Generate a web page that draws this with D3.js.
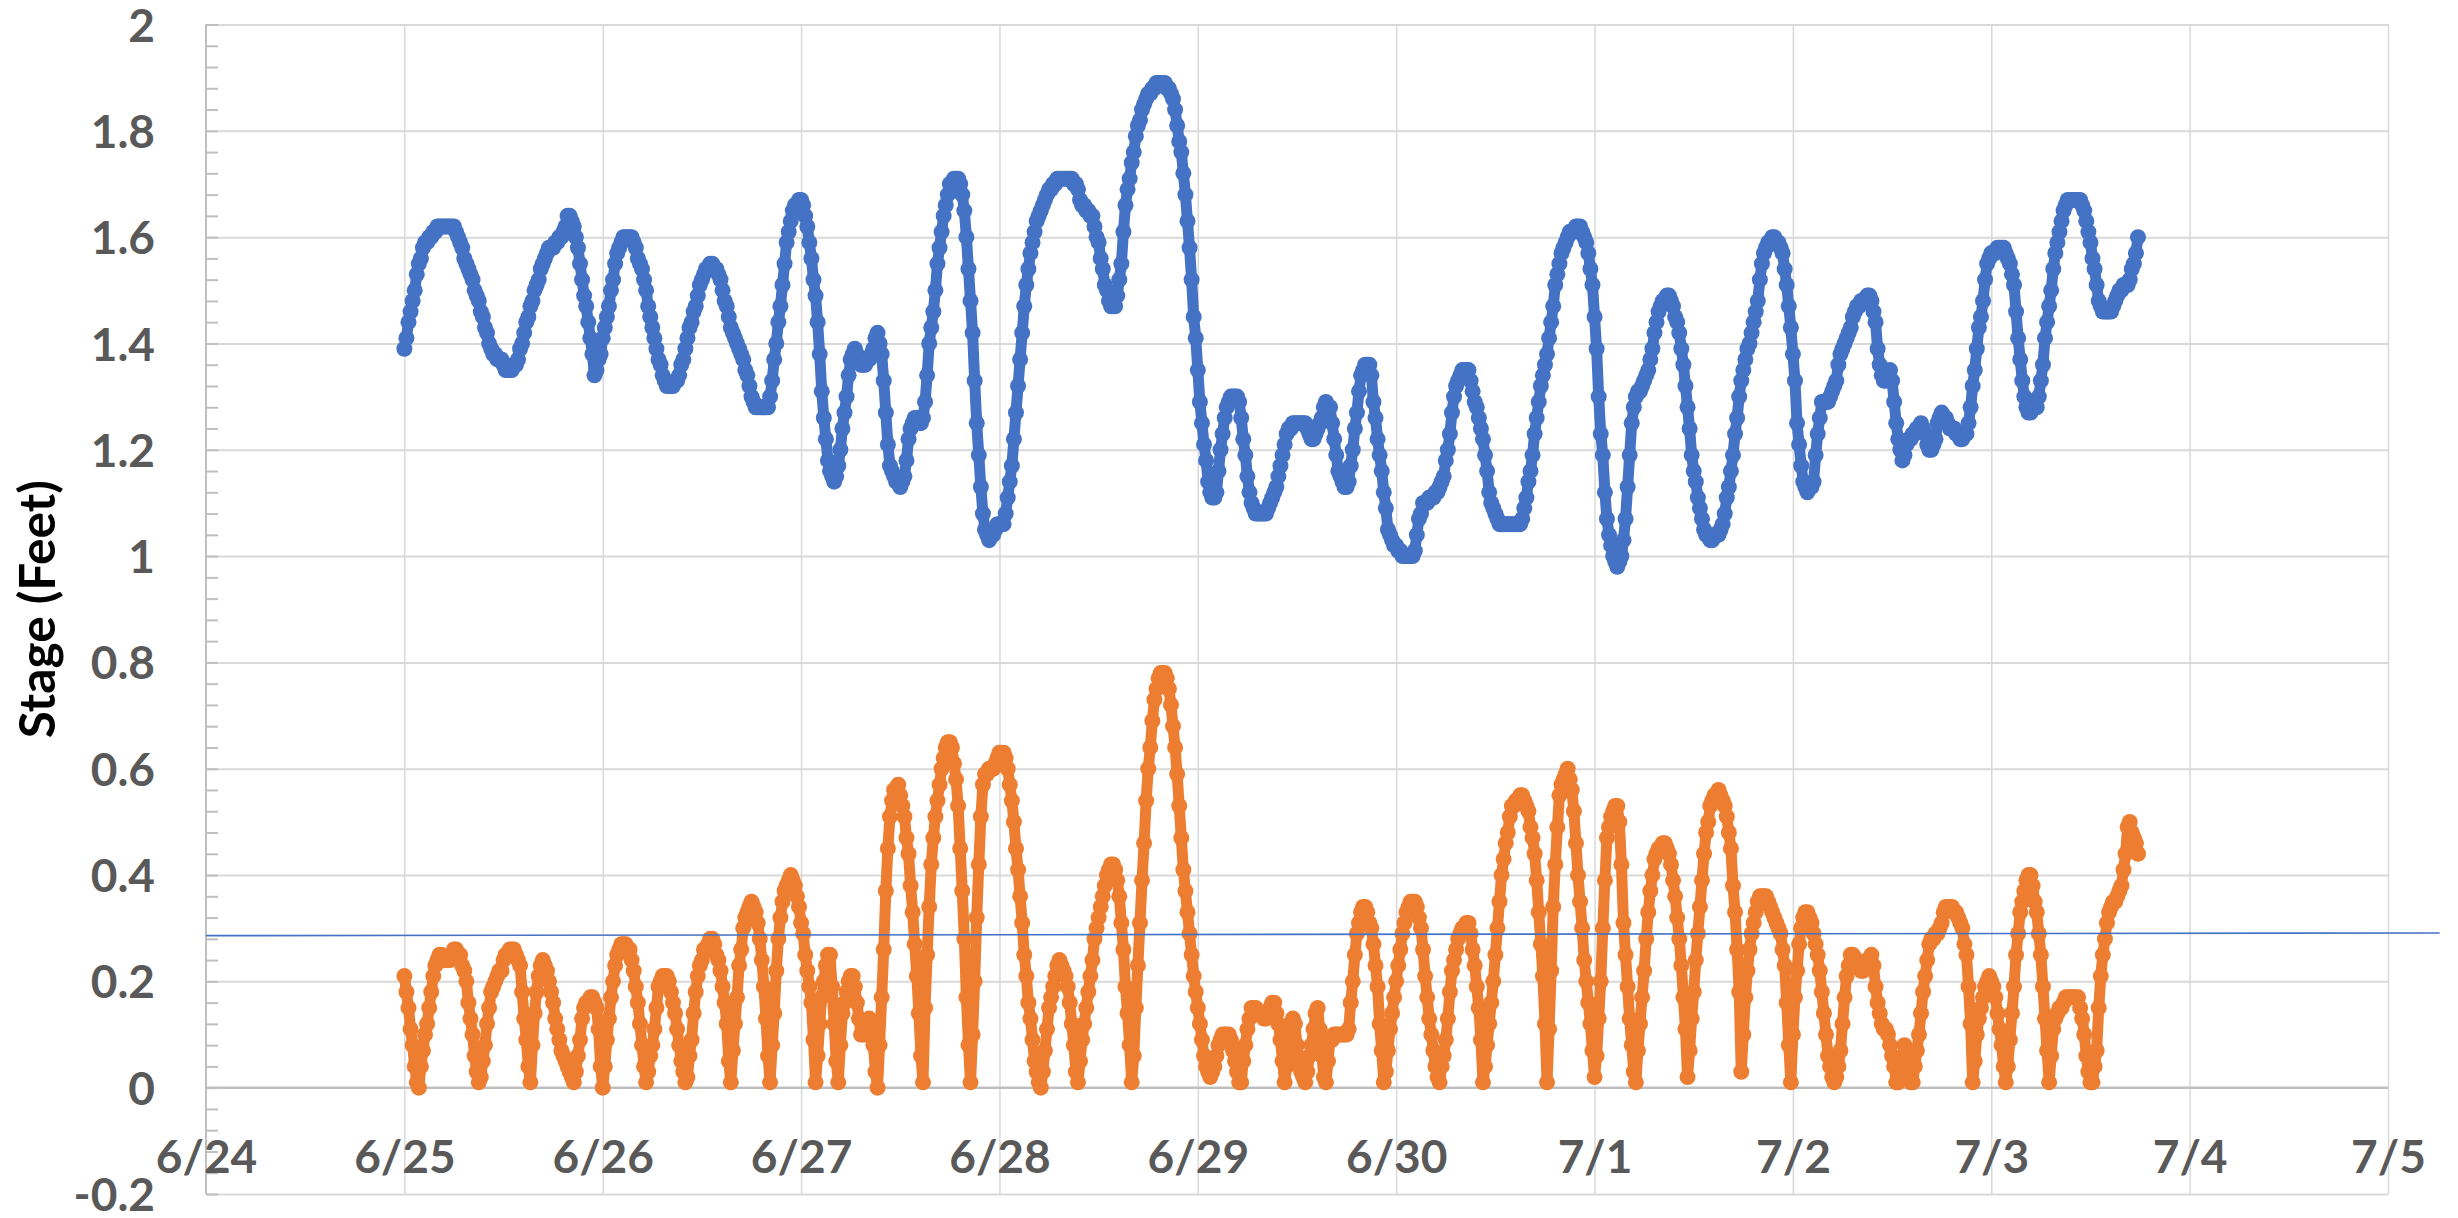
<!DOCTYPE html>
<html>
<head>
<meta charset="utf-8">
<script src="https://cdn.jsdelivr.net/npm/d3@7"></script>
<style>
  body { margin: 0; background: #fff; }
  svg { display: block; }
</style>
</head>
<body>
<svg id="chart" width="2458" height="1218"></svg>
<script>
// readings every 15 minutes, starting 6/25 00:00
const startTime = new Date(2019, 5, 25, 0, 0)
const stepMinutes = 15

const dayLabels = ['6/24', '6/25', '6/26', '6/27', '6/28', '6/29', '6/30', '7/1', '7/2', '7/3', '7/4', '7/5']
const yTicks = [-0.2, 0, 0.2, 0.4, 0.6, 0.8, 1, 1.2, 1.4, 1.6, 1.8, 2]

// one row = 6 hours
const upperStage = [
  1.39,1.41,1.44,1.46,1.48,1.50,1.53,1.55,1.56,1.58,1.59,1.59,1.60,1.60,1.61,1.61,1.62,1.62,1.62,1.62,1.62,1.62,1.62,1.62,
  1.62,1.61,1.60,1.59,1.58,1.56,1.55,1.54,1.53,1.52,1.50,1.49,1.48,1.46,1.45,1.43,1.42,1.40,1.39,1.38,1.38,1.37,1.37,1.37,
  1.36,1.35,1.35,1.35,1.35,1.36,1.36,1.37,1.39,1.40,1.42,1.44,1.45,1.47,1.48,1.50,1.51,1.52,1.54,1.55,1.56,1.57,1.58,1.58,
  1.58,1.59,1.59,1.60,1.60,1.61,1.62,1.64,1.64,1.63,1.62,1.60,1.58,1.55,1.52,1.49,1.47,1.44,1.41,1.38,1.34,1.35,1.37,1.38,
  1.41,1.43,1.45,1.47,1.50,1.52,1.55,1.57,1.58,1.59,1.60,1.60,1.60,1.60,1.60,1.59,1.58,1.56,1.55,1.54,1.52,1.50,1.47,1.45,
  1.43,1.41,1.39,1.37,1.36,1.34,1.33,1.32,1.32,1.32,1.32,1.33,1.33,1.34,1.36,1.37,1.39,1.41,1.43,1.44,1.46,1.47,1.49,1.51,
  1.52,1.53,1.54,1.54,1.55,1.55,1.54,1.54,1.53,1.52,1.50,1.48,1.47,1.45,1.43,1.42,1.41,1.40,1.39,1.38,1.37,1.35,1.34,1.32,
  1.30,1.29,1.28,1.28,1.28,1.28,1.28,1.28,1.28,1.30,1.33,1.37,1.40,1.44,1.47,1.51,1.55,1.59,1.61,1.63,1.65,1.66,1.66,1.67,
  1.67,1.66,1.64,1.62,1.59,1.56,1.52,1.49,1.44,1.38,1.31,1.26,1.22,1.18,1.16,1.15,1.14,1.15,1.17,1.20,1.24,1.27,1.30,1.34,
  1.37,1.38,1.39,1.38,1.37,1.36,1.36,1.36,1.37,1.37,1.38,1.39,1.41,1.42,1.40,1.38,1.33,1.27,1.21,1.17,1.16,1.15,1.14,1.14,
  1.13,1.14,1.15,1.18,1.22,1.24,1.25,1.26,1.26,1.26,1.25,1.26,1.29,1.34,1.40,1.43,1.46,1.50,1.55,1.58,1.61,1.64,1.66,1.68,
  1.70,1.70,1.71,1.71,1.71,1.70,1.68,1.65,1.60,1.54,1.48,1.42,1.33,1.25,1.19,1.13,1.08,1.05,1.04,1.03,1.04,1.04,1.05,1.06,
  1.06,1.06,1.06,1.08,1.11,1.14,1.17,1.22,1.27,1.32,1.37,1.42,1.47,1.51,1.54,1.57,1.59,1.61,1.63,1.64,1.65,1.66,1.67,1.68,
  1.69,1.69,1.70,1.70,1.71,1.71,1.71,1.71,1.71,1.71,1.71,1.71,1.70,1.70,1.69,1.67,1.66,1.66,1.65,1.65,1.64,1.64,1.62,1.60,
  1.59,1.56,1.54,1.51,1.50,1.48,1.47,1.47,1.47,1.49,1.52,1.55,1.61,1.66,1.69,1.71,1.74,1.76,1.79,1.81,1.82,1.84,1.85,1.86,
  1.87,1.87,1.88,1.88,1.89,1.89,1.89,1.89,1.89,1.88,1.88,1.87,1.86,1.84,1.81,1.78,1.76,1.72,1.68,1.63,1.58,1.52,1.45,1.41,
  1.35,1.29,1.25,1.21,1.18,1.14,1.12,1.11,1.11,1.12,1.16,1.20,1.23,1.26,1.28,1.29,1.30,1.30,1.30,1.30,1.29,1.26,1.22,1.19,
  1.15,1.12,1.10,1.09,1.08,1.08,1.08,1.08,1.08,1.08,1.09,1.10,1.11,1.12,1.13,1.15,1.17,1.19,1.21,1.23,1.24,1.24,1.25,1.25,
  1.25,1.25,1.25,1.25,1.25,1.24,1.23,1.22,1.22,1.23,1.24,1.25,1.26,1.28,1.29,1.28,1.28,1.25,1.22,1.19,1.16,1.15,1.14,1.13,
  1.13,1.14,1.17,1.20,1.24,1.27,1.31,1.34,1.35,1.36,1.36,1.36,1.34,1.29,1.26,1.22,1.19,1.16,1.12,1.09,1.05,1.04,1.03,1.02,
  1.02,1.01,1.01,1.00,1.00,1.00,1.00,1.00,1.00,1.01,1.04,1.07,1.08,1.10,1.10,1.10,1.11,1.11,1.11,1.12,1.12,1.13,1.14,1.15,
  1.18,1.20,1.23,1.27,1.30,1.32,1.33,1.34,1.35,1.35,1.35,1.35,1.33,1.31,1.29,1.28,1.26,1.24,1.22,1.19,1.16,1.12,1.10,1.09,
  1.08,1.07,1.06,1.06,1.06,1.06,1.06,1.06,1.06,1.06,1.06,1.06,1.06,1.07,1.09,1.11,1.14,1.16,1.19,1.23,1.26,1.29,1.32,1.34,
  1.36,1.38,1.41,1.44,1.47,1.51,1.53,1.55,1.57,1.58,1.59,1.60,1.61,1.61,1.61,1.62,1.62,1.62,1.61,1.60,1.59,1.57,1.54,1.51,
  1.45,1.39,1.30,1.23,1.19,1.12,1.07,1.04,1.02,1.00,0.99,0.98,0.99,1.00,1.03,1.07,1.13,1.19,1.25,1.28,1.30,1.31,1.31,1.32,
  1.33,1.34,1.35,1.37,1.39,1.42,1.44,1.46,1.47,1.48,1.48,1.49,1.49,1.48,1.47,1.45,1.44,1.42,1.39,1.36,1.32,1.28,1.24,1.19,
  1.16,1.14,1.11,1.09,1.07,1.05,1.04,1.04,1.03,1.03,1.04,1.04,1.04,1.05,1.06,1.08,1.11,1.13,1.16,1.19,1.23,1.26,1.30,1.33,
  1.35,1.37,1.39,1.40,1.42,1.44,1.46,1.48,1.52,1.55,1.57,1.58,1.59,1.59,1.60,1.60,1.59,1.59,1.58,1.57,1.54,1.51,1.47,1.43,
  1.38,1.33,1.25,1.21,1.17,1.14,1.13,1.12,1.13,1.13,1.14,1.19,1.23,1.26,1.29,1.29,1.29,1.29,1.30,1.31,1.32,1.33,1.36,1.38,
  1.39,1.40,1.41,1.42,1.43,1.45,1.46,1.47,1.47,1.48,1.48,1.48,1.49,1.49,1.48,1.46,1.44,1.39,1.36,1.34,1.33,1.33,1.34,1.35,
  1.33,1.29,1.25,1.22,1.20,1.18,1.19,1.21,1.22,1.22,1.23,1.23,1.24,1.24,1.25,1.24,1.23,1.21,1.20,1.20,1.21,1.22,1.25,1.26,
  1.27,1.26,1.26,1.25,1.24,1.24,1.24,1.23,1.23,1.22,1.22,1.23,1.23,1.25,1.28,1.32,1.35,1.39,1.43,1.45,1.48,1.52,1.55,1.56,
  1.57,1.57,1.57,1.58,1.58,1.58,1.58,1.57,1.56,1.55,1.53,1.51,1.46,1.41,1.37,1.33,1.30,1.28,1.27,1.27,1.28,1.28,1.28,1.30,
  1.33,1.36,1.41,1.44,1.47,1.50,1.54,1.57,1.59,1.61,1.63,1.65,1.66,1.67,1.67,1.67,1.67,1.67,1.67,1.67,1.66,1.65,1.63,1.61,
  1.59,1.56,1.54,1.51,1.48,1.47,1.46,1.46,1.46,1.46,1.46,1.47,1.48,1.49,1.50,1.50,1.51,1.51,1.51,1.52,1.54,1.55,1.57,1.60
]

const lowerStage = [
  0.21,0.18,0.15,0.11,0.08,0.04,0.01,0.00,0.04,0.07,0.10,0.12,0.15,0.18,0.21,0.23,0.24,0.25,0.25,0.24,0.24,0.24,0.24,0.25,
  0.26,0.26,0.25,0.25,0.23,0.22,0.20,0.16,0.13,0.10,0.06,0.03,0.01,0.02,0.05,0.08,0.12,0.15,0.18,0.19,0.20,0.21,0.22,0.22,
  0.24,0.25,0.25,0.26,0.26,0.26,0.25,0.24,0.23,0.18,0.13,0.09,0.04,0.01,0.08,0.14,0.18,0.21,0.23,0.24,0.23,0.22,0.20,0.18,
  0.16,0.13,0.11,0.09,0.07,0.06,0.05,0.04,0.03,0.02,0.01,0.03,0.06,0.09,0.13,0.15,0.16,0.16,0.17,0.17,0.16,0.15,0.11,0.04,
  0.00,0.04,0.09,0.13,0.17,0.20,0.23,0.25,0.26,0.27,0.27,0.27,0.26,0.26,0.24,0.22,0.19,0.16,0.12,0.08,0.04,0.01,0.03,0.06,
  0.08,0.11,0.15,0.19,0.20,0.21,0.21,0.21,0.20,0.18,0.16,0.14,0.11,0.08,0.05,0.03,0.01,0.02,0.06,0.09,0.14,0.18,0.21,0.23,
  0.24,0.26,0.26,0.27,0.28,0.28,0.27,0.25,0.24,0.22,0.19,0.16,0.12,0.05,0.01,0.07,0.12,0.17,0.23,0.26,0.30,0.32,0.33,0.34,
  0.35,0.34,0.33,0.31,0.28,0.24,0.19,0.13,0.06,0.01,0.08,0.14,0.22,0.28,0.32,0.35,0.37,0.38,0.39,0.40,0.39,0.38,0.36,0.34,
  0.31,0.29,0.25,0.22,0.19,0.16,0.09,0.01,0.06,0.12,0.17,0.20,0.23,0.25,0.25,0.19,0.12,0.05,0.01,0.08,0.14,0.16,0.18,0.20,
  0.21,0.21,0.19,0.16,0.13,0.10,0.10,0.10,0.12,0.13,0.11,0.08,0.03,0.00,0.08,0.17,0.26,0.37,0.45,0.51,0.54,0.56,0.56,0.57,
  0.55,0.53,0.51,0.47,0.44,0.38,0.33,0.27,0.21,0.14,0.06,0.01,0.15,0.25,0.34,0.42,0.47,0.51,0.54,0.57,0.60,0.62,0.64,0.65,
  0.65,0.64,0.61,0.58,0.53,0.45,0.37,0.28,0.17,0.08,0.01,0.10,0.20,0.32,0.42,0.51,0.57,0.59,0.59,0.60,0.60,0.60,0.61,0.62,
  0.63,0.63,0.63,0.62,0.60,0.57,0.54,0.50,0.45,0.41,0.36,0.31,0.25,0.21,0.16,0.13,0.09,0.05,0.03,0.01,0.00,0.03,0.07,0.11,
  0.15,0.17,0.19,0.21,0.23,0.24,0.23,0.22,0.21,0.19,0.16,0.12,0.08,0.03,0.01,0.05,0.09,0.12,0.15,0.18,0.21,0.24,0.28,0.30,
  0.32,0.34,0.36,0.38,0.40,0.41,0.42,0.42,0.41,0.39,0.36,0.31,0.26,0.19,0.14,0.08,0.01,0.06,0.15,0.23,0.31,0.39,0.46,0.54,
  0.60,0.64,0.69,0.73,0.75,0.77,0.78,0.78,0.78,0.77,0.75,0.72,0.68,0.64,0.59,0.53,0.47,0.41,0.37,0.33,0.29,0.25,0.21,0.18,
  0.15,0.12,0.09,0.06,0.04,0.03,0.02,0.03,0.04,0.06,0.08,0.09,0.10,0.10,0.10,0.10,0.09,0.07,0.05,0.03,0.01,0.01,0.05,0.08,
  0.11,0.13,0.15,0.15,0.15,0.14,0.14,0.14,0.13,0.13,0.14,0.15,0.16,0.16,0.14,0.12,0.09,0.05,0.01,0.04,0.09,0.12,0.13,0.12,
  0.08,0.05,0.03,0.02,0.01,0.03,0.06,0.08,0.11,0.14,0.15,0.11,0.06,0.02,0.01,0.05,0.09,0.09,0.10,0.10,0.10,0.10,0.10,0.10,
  0.10,0.11,0.16,0.20,0.25,0.29,0.31,0.33,0.34,0.34,0.33,0.31,0.30,0.27,0.23,0.19,0.12,0.07,0.01,0.03,0.07,0.11,0.14,0.17,
  0.20,0.23,0.26,0.29,0.31,0.33,0.34,0.35,0.35,0.35,0.34,0.32,0.30,0.26,0.21,0.17,0.13,0.10,0.07,0.04,0.02,0.01,0.04,0.06,
  0.09,0.13,0.18,0.22,0.24,0.26,0.28,0.29,0.30,0.30,0.31,0.31,0.29,0.26,0.23,0.19,0.15,0.09,0.01,0.04,0.08,0.12,0.16,0.20,
  0.25,0.30,0.35,0.40,0.43,0.46,0.48,0.51,0.53,0.53,0.54,0.54,0.55,0.55,0.54,0.53,0.52,0.49,0.47,0.44,0.39,0.33,0.27,0.21,
  0.12,0.01,0.11,0.22,0.34,0.42,0.49,0.55,0.57,0.58,0.59,0.60,0.58,0.56,0.52,0.46,0.40,0.35,0.30,0.24,0.20,0.16,0.12,0.07,
  0.02,0.06,0.13,0.20,0.30,0.39,0.47,0.49,0.51,0.52,0.53,0.53,0.50,0.42,0.31,0.25,0.19,0.13,0.08,0.03,0.01,0.07,0.12,0.17,
  0.22,0.28,0.33,0.37,0.40,0.43,0.44,0.45,0.45,0.46,0.46,0.45,0.44,0.42,0.39,0.36,0.32,0.28,0.23,0.17,0.11,0.02,0.07,0.13,
  0.18,0.24,0.29,0.34,0.39,0.44,0.48,0.50,0.53,0.54,0.55,0.55,0.56,0.55,0.54,0.53,0.51,0.48,0.45,0.38,0.33,0.26,0.18,0.03,
  0.10,0.17,0.22,0.26,0.29,0.31,0.33,0.35,0.36,0.36,0.36,0.36,0.35,0.34,0.33,0.32,0.31,0.30,0.29,0.26,0.23,0.16,0.08,0.01,
  0.10,0.17,0.22,0.27,0.30,0.32,0.33,0.33,0.32,0.31,0.29,0.27,0.25,0.22,0.18,0.14,0.10,0.06,0.04,0.02,0.01,0.02,0.04,0.07,
  0.12,0.17,0.21,0.23,0.25,0.25,0.24,0.24,0.23,0.22,0.22,0.23,0.24,0.24,0.25,0.23,0.19,0.16,0.14,0.12,0.11,0.11,0.10,0.08,
  0.06,0.04,0.01,0.01,0.03,0.06,0.08,0.06,0.03,0.01,0.01,0.04,0.07,0.10,0.14,0.18,0.21,0.24,0.27,0.28,0.28,0.29,0.29,0.30,
  0.31,0.33,0.34,0.34,0.34,0.34,0.33,0.33,0.32,0.31,0.30,0.27,0.25,0.19,0.12,0.01,0.05,0.10,0.13,0.15,0.17,0.19,0.20,0.21,
  0.20,0.19,0.17,0.14,0.11,0.08,0.04,0.01,0.04,0.09,0.14,0.19,0.25,0.29,0.33,0.35,0.37,0.39,0.40,0.40,0.38,0.35,0.33,0.29,
  0.25,0.19,0.13,0.07,0.01,0.06,0.11,0.13,0.14,0.15,0.15,0.16,0.17,0.17,0.17,0.17,0.17,0.17,0.17,0.15,0.13,0.10,0.06,0.03,
  0.01,0.01,0.04,0.07,0.15,0.21,0.25,0.28,0.31,0.33,0.34,0.35,0.35,0.36,0.37,0.38,0.41,0.44,0.49,0.50,0.48,0.47,0.46,0.44
]

// thin blue line across the lower series
const trendTimes = [new Date(2019, 5, 24, 0, 0), new Date(2019, 6, 5, 6, 15)]
const trendValues = [0.286, 0.291]

const svg = d3.select('#chart')
const plotLeft = 206, plotRight = 2388, plotTop = 24.5, plotBottom = 1194
const font = 'Lato, "Open Sans", sans-serif'

const dayDates = dayLabels.map(l => {
  const [m, d] = l.split('/').map(Number)
  return new Date(2019, m - 1, d)
})

const x = d3.scaleTime().domain([dayDates[0], dayDates[dayDates.length - 1]]).range([plotLeft, plotRight])
const y = d3.scaleLinear().domain([-0.2, 2]).range([plotBottom, plotTop])

const timeAt = i => d3.timeMinute.offset(startTime, i * stepMinutes)

svg.append('rect').attr('width', 2458).attr('height', 1218).attr('fill', '#fff')

// grid
const yGrid = svg.append('g')
  .attr('transform', `translate(${plotLeft},0)`)
  .call(d3.axisLeft(y).tickValues(yTicks.filter(v => v !== 0)).tickSize(-(plotRight - plotLeft)).tickFormat(''))
yGrid.select('.domain').remove()
yGrid.selectAll('line').attr('stroke', '#d9d9d9').attr('stroke-width', 2)

const xGrid = svg.append('g')
  .attr('transform', `translate(0,${plotBottom})`)
  .call(d3.axisBottom(x).tickValues(dayDates.slice(1)).tickSize(-(plotBottom - plotTop)).tickFormat(''))
xGrid.select('.domain').remove()
xGrid.selectAll('line').attr('stroke', '#d9d9d9').attr('stroke-width', 1.5)

// axis lines and minor ticks
svg.append('line')
  .attr('x1', plotLeft).attr('x2', plotRight)
  .attr('y1', y(0)).attr('y2', y(0))
  .attr('stroke', '#bfbfbf').attr('stroke-width', 2.5)

svg.append('line')
  .attr('x1', plotLeft).attr('x2', plotLeft)
  .attr('y1', plotTop).attr('y2', plotBottom)
  .attr('stroke', '#bfbfbf').attr('stroke-width', 2)

const minor = d3.range(0, 56).map(i => -0.2 + i * 0.04)
const minorG = svg.append('g')
  .attr('transform', `translate(${plotLeft},0)`)
  .call(d3.axisRight(y).tickValues(minor).tickSize(12).tickFormat(''))
minorG.select('.domain').remove()
minorG.selectAll('line').attr('stroke', '#bfbfbf').attr('stroke-width', 2)

// tick labels
const yAxis = svg.append('g')
  .attr('transform', `translate(${plotLeft},0)`)
  .call(d3.axisLeft(y).tickValues(yTicks).tickSize(0).tickPadding(51).tickFormat(d => String(d)))
yAxis.select('.domain').remove()
yAxis.selectAll('text')
  .attr('font-family', font).attr('font-weight', 700).attr('font-size', 46)
  .attr('fill', '#595959').attr('dy', '0.36em')

const xAxis = svg.append('g')
  .attr('transform', `translate(0,${y(0)})`)
  .call(d3.axisBottom(x).tickValues(dayDates).tickSize(0).tickPadding(53).tickFormat((d, i) => dayLabels[i]))
xAxis.select('.domain').remove()
xAxis.selectAll('text')
  .attr('font-family', font).attr('font-weight', 700).attr('font-size', 46)
  .attr('fill', '#595959')

// series: dense markers, joined so the steep runs stay unbroken
function drawSeries(values, color) {
  const g = svg.append('g')
  g.append('path')
    .datum(values)
    .attr('fill', 'none')
    .attr('stroke', color)
    .attr('stroke-width', 11)
    .attr('stroke-linejoin', 'round')
    .attr('d', d3.line().x((d, i) => x(timeAt(i))).y(d => y(d)))
  g.selectAll('circle')
    .data(values)
    .join('circle')
    .attr('cx', (d, i) => x(timeAt(i)))
    .attr('cy', d => y(d))
    .attr('r', 8)
    .attr('fill', color)
}

drawSeries(upperStage, '#4472c4')
drawSeries(lowerStage, '#ed7d31')

svg.append('path')
  .datum(trendValues.map((v, i) => [trendTimes[i], v]))
  .attr('fill', 'none')
  .attr('stroke', '#4472c4')
  .attr('stroke-width', 1.6)
  .attr('d', d3.line().x(d => x(d[0])).y(d => y(d[1])))

svg.append('text')
  .attr('transform', `translate(36,${(plotTop + plotBottom) / 2}) rotate(-90)`)
  .attr('text-anchor', 'middle')
  .attr('dominant-baseline', 'central')
  .attr('font-family', font).attr('font-weight', 700).attr('font-size', 50)
  .attr('textLength', 258).attr('lengthAdjust', 'spacingAndGlyphs')
  .attr('fill', '#000')
  .text('Stage (Feet)')
</script>
</body>
</html>
